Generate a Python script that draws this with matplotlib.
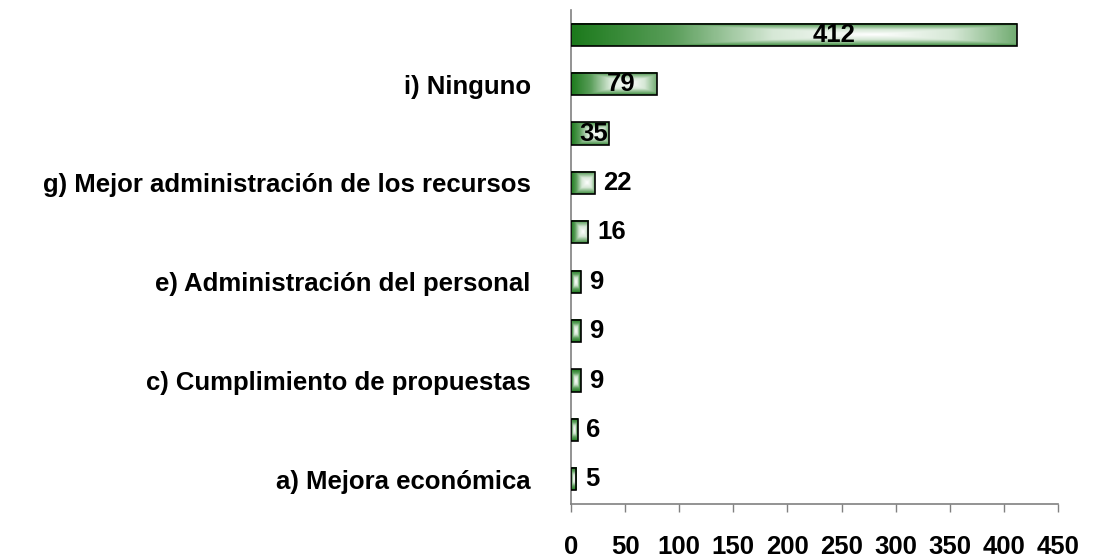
import numpy as np
import matplotlib
matplotlib.use("Agg")
import matplotlib.pyplot as plt
from matplotlib.colors import LinearSegmentedColormap

# data, bottom to top
labels = ["a) Mejora económica", "", "c) Cumplimiento de propuestas", "",
          "e) Administración del personal", "", "g) Mejor administración de los recursos", "",
          "i) Ninguno", ""]
values = [5, 6, 9, 9, 9, 16, 22, 35, 79, 412]
xticks = [0, 50, 100, 150, 200, 250, 300, 350, 400, 450]

plt.rcParams['font.family'] = ['Liberation Sans', 'DejaVu Sans']
plt.rcParams['font.weight'] = 'bold'
FS = 18.5

fig = plt.figure(figsize=(11.14, 5.58), dpi=100)
ax = fig.add_axes([0.5126, 0.0968, 0.4371, 0.8852])

cmap = LinearSegmentedColormap.from_list("grn", ["#ffffff", "#d6e8d6", "#5a9e5a", "#1c7a1c"])

# gradient image: white near the middle, green toward the edges
gx = np.linspace(0, 1, 200)
gy = np.linspace(0, 1, 40)
XX, YY = np.meshgrid(gx, gy)
hx = np.where(XX < 0.68, (0.68 - XX) / 0.68, (XX - 0.68) / 0.32 * 0.6)
vy = np.abs(2 * YY - 1) * 0.75
grad = np.maximum(hx, vy)

ypos = np.arange(len(values))
h = 0.45
bars = ax.barh(ypos, values, height=h, facecolor='none', edgecolor='black', linewidth=1.2, zorder=3)

for b, v in zip(bars, values):
    x0, y0 = b.get_x(), b.get_y()
    w, hh = b.get_width(), b.get_height()
    if w <= 12:
        # small bars: box-shaped gradient
        g = np.maximum(np.abs(2 * XX - 1), np.abs(2 * YY - 1))
    else:
        g = grad
    ax.imshow(g, cmap=cmap, vmin=0, vmax=1, extent=[x0, x0 + w, y0, y0 + hh],
              aspect='auto', origin='lower', zorder=2, interpolation='bilinear')

for y, v in zip(ypos, values):
    if v > 30:
        ax.text(v * 0.59, y, str(v), ha='center', va='center', fontsize=FS,
                fontweight='bold', zorder=4)
    else:
        ax.text(v + 8, y, str(v), ha='left', va='center', fontsize=FS,
                fontweight='bold', zorder=4)

ax.set_xlim(0, 450)
ax.set_ylim(-0.5, len(values) - 0.5)
ax.set_xticks(xticks)
ax.set_xticklabels([str(t) for t in xticks], fontsize=FS, fontweight='bold')
ax.set_yticks(ypos)
ax.set_yticklabels(labels, fontsize=FS, fontweight='bold')

ax.tick_params(axis='x', direction='out', length=6, width=1, color='#808080', pad=16)
ax.tick_params(axis='y', length=0, pad=29)

for s in ['top', 'right']:
    ax.spines[s].set_visible(False)
for s in ['left', 'bottom']:
    ax.spines[s].set_color('#808080')
    ax.spines[s].set_linewidth(1.2)

fig.savefig("out.png", dpi=100)
